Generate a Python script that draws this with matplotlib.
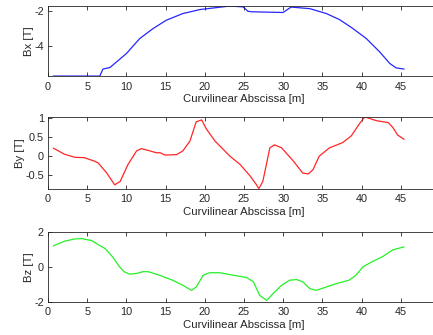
import numpy as np
import matplotlib.pyplot as plt

plt.rcParams['font.family'] = ['Liberation Sans', 'DejaVu Sans']

# Bx along the path
bx_s = [0.7, 6.6, 7.0, 7.9, 10.0, 11.7, 13.4, 15.1, 17.2, 19.4, 21.5, 23.2, 24.9,
        25.5, 26.0, 30.0, 31.0, 33.4, 35.5, 37.2, 38.9, 40.6, 42.3, 43.6, 44.4, 45.4]
bx_v = [-5.71, -5.71, -5.31, -5.22, -4.42, -3.56, -2.99, -2.51, -2.13, -1.90, -1.79, -1.70, -1.75,
        -2.00, -2.03, -2.07, -1.76, -1.85, -2.13, -2.48, -2.99, -3.56, -4.32, -4.99, -5.24, -5.31]

# By along the path
by_s = [0.7, 2.1, 3.4, 4.6, 5.9, 6.4, 7.5, 8.5, 9.2, 10.2, 11.3, 11.9, 13.0, 13.8, 14.3, 14.9,
        16.4, 17.2, 18.1, 18.9, 19.6, 20.2, 21.3, 23.2, 24.5, 25.8, 26.6, 26.9, 27.4, 28.3, 28.9,
        29.8, 31.3, 32.5, 33.2, 33.8, 34.6, 35.9, 37.6, 38.7, 39.7, 40.4, 41.0, 41.9, 43.4, 44.0,
        44.6, 45.4]
by_v = [0.20, 0.04, -0.04, -0.05, -0.14, -0.19, -0.46, -0.77, -0.68, -0.23, 0.13, 0.19, 0.13, 0.08,
        0.08, 0.02, 0.03, 0.13, 0.39, 0.90, 0.95, 0.71, 0.39, -0.01, -0.23, -0.54, -0.77, -0.87,
        -0.68, 0.21, 0.29, 0.21, -0.14, -0.46, -0.48, -0.37, -0.01, 0.21, 0.35, 0.53, 0.84, 1.03,
        0.99, 0.93, 0.88, 0.75, 0.55, 0.44]

# Bz along the path
bz_s = [0.7, 2.1, 3.4, 4.3, 5.6, 6.4, 7.3, 8.2, 9.1, 9.7, 10.4, 11.3, 12.1, 12.8, 14.2, 15.9,
        17.2, 18.3, 18.9, 19.8, 20.6, 21.9, 23.6, 25.3, 26.2, 27.0, 27.9, 28.7, 29.8, 30.8, 31.7,
        32.5, 33.4, 34.2, 35.5, 36.8, 38.4, 39.3, 40.2, 41.4, 42.7, 44.0, 45.4]
bz_v = [1.22, 1.48, 1.61, 1.63, 1.51, 1.28, 1.05, 0.60, 0.02, -0.27, -0.41, -0.37, -0.27, -0.27,
        -0.47, -0.76, -1.05, -1.34, -1.15, -0.47, -0.33, -0.33, -0.47, -0.60, -0.85, -1.63, -1.92,
        -1.53, -1.05, -0.76, -0.72, -0.85, -1.24, -1.34, -1.15, -0.95, -0.76, -0.47, 0.02, 0.31,
        0.60, 0.99, 1.15]

panels = [
    (bx_s, bx_v, 'blue', 'Bx [T]', (min(bx_v), max(bx_v)), [-4, -2]),
    (by_s, by_v, 'red', 'By [T]', (min(by_v), max(by_v)), [-0.5, 0, 0.5, 1]),
    (bz_s, bz_v, '#00ee00', 'Bz [T]', (-2, 2), [-2, 0, 2]),
]
positions = [(0.111, 0.773, 0.905, 0.209),
             (0.111, 0.437, 0.905, 0.214),
             (0.111, 0.099, 0.905, 0.208)]

fig = plt.figure(figsize=(4.33, 3.35), dpi=100)
grey = '#262626'
for (s, v, col, lab, yl, yt), pos in zip(panels, positions):
    ax = fig.add_axes(pos)
    ax.plot(s, v, color=col, lw=0.9, alpha=0.85)
    ax.set_xlim(0, 50)
    ax.set_ylim(*yl)
    ax.set_xticks(range(0, 50, 5))
    ax.set_yticks(yt)
    ax.set_yticklabels([('%g' % t) for t in yt])
    ax.tick_params(direction='in', top=True, right=True, labelsize=7.8, colors=grey,
                   length=3, width=0.6, pad=4)
    ax.tick_params(axis='y', pad=3)
    for sp in ax.spines.values():
        sp.set_color(grey)
        sp.set_linewidth(0.6)
    ax.set_xlabel('Curvilinear Abscissa [m]', fontsize=8.2, color=grey, labelpad=2)
    ax.set_ylabel(lab, fontsize=8.2, color=grey, labelpad=0)

fig.savefig('out.png', dpi=100)
